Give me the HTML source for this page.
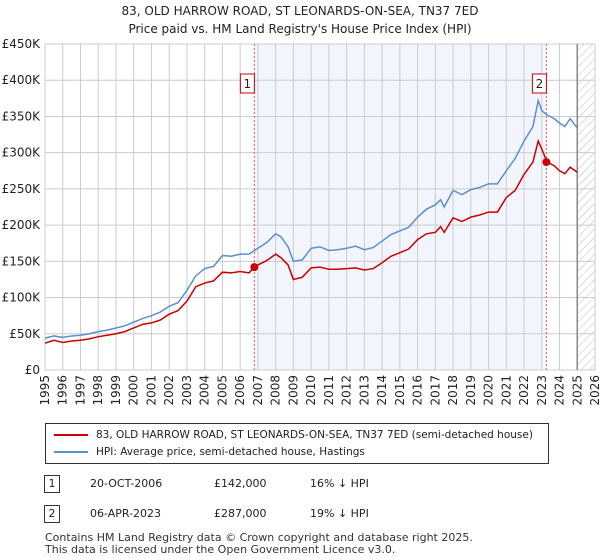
<!DOCTYPE html>
<html><head><meta charset="utf-8"><style>
body{margin:0;background:#fff;font-family:"DejaVu Sans","Liberation Sans",sans-serif;}
#wrap{position:relative;width:600px;height:560px;overflow:hidden}
.t{position:absolute;font-size:12px;color:#222;white-space:nowrap}
</style></head><body><div id="wrap">
<div class="t" style="left:0;width:600px;text-align:center;top:2px;line-height:18px">83, OLD HARROW ROAD, ST LEONARDS-ON-SEA, TN37 7ED<br>Price paid vs. HM Land Registry's House Price Index (HPI)</div>
<svg id="ch" width="600" height="420" style="position:absolute;left:0;top:0;font-family:'DejaVu Sans',sans-serif"></svg>
<div style="position:absolute;left:45px;top:423px;width:502px;height:39px;border:1px solid #333;font-size:10.5px;color:#222">
<div style="position:absolute;left:8px;top:5px;white-space:nowrap"><span style="display:inline-block;width:34px;height:2px;background:#cc0000;vertical-align:middle;margin-right:8px"></span>83, OLD HARROW ROAD, ST LEONARDS-ON-SEA, TN37 7ED (semi-detached house)</div>
<div style="position:absolute;left:8px;top:22px;white-space:nowrap"><span style="display:inline-block;width:34px;height:2px;background:#5b8fd0;vertical-align:middle;margin-right:8px"></span>HPI: Average price, semi-detached house, Hastings</div>
</div>
<div style="position:absolute;top:475px;left:0;font-size:11px;color:#222">
<span style="position:absolute;left:44px;top:0;border:1px solid #333;width:14px;height:16px;text-align:center;line-height:16px">1</span>
<span style="position:absolute;left:90px;top:2px;white-space:nowrap">20-OCT-2006</span>
<span style="position:absolute;left:214px;top:2px">£142,000</span>
<span style="position:absolute;left:310px;top:2px;white-space:nowrap">16% ↓ HPI</span></div>
<div style="position:absolute;top:505px;left:0;font-size:11px;color:#222">
<span style="position:absolute;left:44px;top:0;border:1px solid #333;width:14px;height:16px;text-align:center;line-height:16px">2</span>
<span style="position:absolute;left:90px;top:2px;white-space:nowrap">06-APR-2023</span>
<span style="position:absolute;left:214px;top:2px">£287,000</span>
<span style="position:absolute;left:310px;top:2px;white-space:nowrap">19% ↓ HPI</span></div>
<div class="t" style="left:45px;top:532px;font-size:11px;line-height:12px;color:#333">Contains HM Land Registry data © Crown copyright and database right 2025.<br>This data is licensed under the Open Government Licence v3.0.</div>
</div>
<script>
const hpiYears=[1995,1995.5,1996,1996.5,1997,1997.5,1998,1998.5,1999,1999.5,2000,2000.5,2001,2001.5,2002,2002.5,2003,2003.5,2004,2004.5,2005,2005.5,2006,2006.5,2006.8,2007,2007.5,2008,2008.3,2008.7,2009,2009.5,2010,2010.5,2011,2011.5,2012,2012.5,2013,2013.5,2014,2014.5,2015,2015.5,2016,2016.5,2017,2017.3,2017.5,2018,2018.5,2019,2019.5,2020,2020.5,2021,2021.5,2022,2022.5,2022.8,2023,2023.3,2023.7,2024,2024.3,2024.6,2025];
const hpiValues=[44,47,45,47,48,50,53,55,58,61,66,71,75,80,88,93,110,130,140,143,158,157,160,160,165,168,176,188,184,170,150,152,168,170,165,166,168,171,166,169,178,187,192,197,211,222,228,235,225,248,242,249,252,257,257,275,292,316,336,372,358,352,347,341,336,347,334];
const ppYears=hpiYears;
const ppValues=[37,41,38,40,41,43,46,48,50,53,58,63,65,69,77,82,95,115,120,123,135,134,136,134,142,145,151,160,155,145,125,128,141,142,139,139,140,141,138,140,148,157,162,167,180,188,190,198,190,210,205,211,214,218,218,238,248,270,287,316,305,287,282,275,271,280,273];
const sales=[[2006.8,142,'1'],[2023.26,287,'2']];
const yTicks=[0,50,100,150,200,250,300,350,400,450];
const xTicks=[1995,1996,1997,1998,1999,2000,2001,2002,2003,2004,2005,2006,2007,2008,2009,2010,2011,2012,2013,2014,2015,2016,2017,2018,2019,2020,2021,2022,2023,2024,2025,2026];
const X0=45,X1=595,Y0=370,Y1=44;
const xs=y=>X0+(y-1995)/(2026-1995)*(X1-X0);
const ys=v=>Y0-v/450*(Y0-Y1);
const svg=document.getElementById('ch');const NS='http://www.w3.org/2000/svg';
function mk(t,a,p){const e=document.createElementNS(NS,t);for(const k in a)e.setAttribute(k,a[k]);(p||svg).appendChild(e);return e;}
const defs=mk('defs',{});
const pat=mk('pattern',{id:'h',width:6,height:6,patternUnits:'userSpaceOnUse',patternTransform:'rotate(45)'},defs);
mk('line',{x1:0,y1:0,x2:0,y2:6,stroke:'#bbb','stroke-width':1},pat);
let e=mk('rect',{x:xs(sales[0][0]),y:Y1,width:xs(sales[1][0])-xs(sales[0][0]),height:Y0-Y1,fill:'#f2f5fd'});

e=mk('rect',{x:xs(2025),y:Y1,width:X1-xs(2025),height:Y0-Y1,fill:'url(#h)'});

yTicks.forEach(v=>{mk('line',{x1:X0,x2:X1,y1:ys(v),y2:ys(v),stroke:'#ccc'});
 const t=mk('text',{x:X0-5,y:ys(v)+4,'text-anchor':'end','font-size':12,fill:'#222'});t.textContent=v?'£'+v+'K':'£0';
 });
xTicks.forEach(y=>{mk('line',{x1:xs(y),x2:xs(y),y1:Y1,y2:Y0,stroke:'#ccc'});
 const t=mk('text',{x:0,y:0,'text-anchor':'end','font-size':12,fill:'#222',transform:`translate(${xs(y)+4},${Y0+5}) rotate(-90)`});t.textContent=y;
 });
mk('rect',{x:X0,y:Y1,width:X1-X0,height:Y0-Y1,fill:'none',stroke:'#ccc'});
mk('line',{x1:xs(2025),x2:xs(2025),y1:Y1,y2:Y0,stroke:'#888','stroke-width':1.5});
sales.forEach(s=>{mk('line',{x1:xs(s[0]),x2:xs(s[0]),y1:Y1,y2:Y0,stroke:'#e06060','stroke-dasharray':'2,2'});});
function line(xv,yv,c,n){const p=mk('polyline',{points:xv.map((x,i)=>xs(x)+','+ys(yv[i])).join(' '),fill:'none',stroke:c,'stroke-width':1.5});
 }
line(hpiYears,hpiValues,'#5b8fd0','hpi-line');
line(ppYears,ppValues,'#cc0000','price-paid-line');
sales.forEach(s=>{const d=mk('circle',{cx:xs(s[0]),cy:ys(s[1]),r:4,fill:'#cc0000'});
 
 const bx=xs(s[0])-13;mk('rect',{x:bx-1,y:74,width:14,height:19,fill:'#fff',stroke:'#cc0000'});
 const t=mk('text',{x:bx+6,y:88,'text-anchor':'middle','font-size':12,fill:'#222'});t.textContent=s[2];
 });
</script></body></html>
